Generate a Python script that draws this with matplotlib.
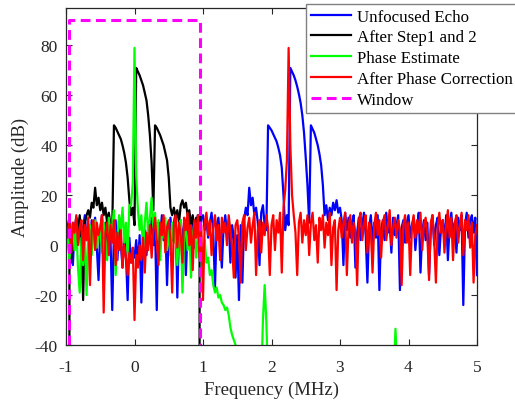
import numpy as np
import matplotlib
matplotlib.use("Agg")
import matplotlib.pyplot as plt
from matplotlib.lines import Line2D

plt.rcParams['font.family'] = ['Liberation Serif', 'DejaVu Serif']

# ---------------- data ----------------
freq_start, freq_stop = -1.0, 5.0   # MHz, uniform sampling of blue/red spectra

unfocused_echo = [
    10, 4, 12, 1, -8, 6, 11, 3, 9, -4, 7, 12, 2, 8, -2, 10, 5, 11, -1, -14,
    6, 12, 3, 9, -3, 8, 2, -26, 5, 10, -6, 7, 1, -9, 4, -4, -22, 3, -7, -2,
    -5, 2, -8, 4, -23, 1, 6, -4, 8, 3, 11, 0, 7, -26, 9, 4, 12, 2, 8, -16,
    5, 11, 2, 9, 13, -21, 6, 10, 1, 8, -12, 7, 12, 3, 10, -1, 8, 12, 4, 11,
    12, 6, 10, 3, 9, 13, 5, -17, 8, 11, 2, -9, 7, 12, 4, 10, -7, 8, 3, -13,
    4, -22, 8, -15, 10, 15, 12, 23, 16, 19, 12, 15, 9, -8, 13, 16, 8, 6, 48, 47,
    46, 44.5, 43, 41.5, 39, 36, 31, 20, 6, 12, 8, 71, 69.5, 68, 66, 63.5, 60.5, 57, 52, 45,
    35, 24, 9, 48, 46.5, 45, 42.5, 40, 36.5, 32, 24, 12, 16, 10, 15, 12, 17, 14, 18, 13,
    15, 10, -8, 13, 6, 11, 3, 9, 12, -9, 5, 11, 2, 8, 13, 4, -15, 7, 12, 1,
    9, 3, 12, -18, 6, 10, 2, 13, 5, 9, -3, 11, 4, 8, 12, -18, 7, 10, 1, 9,
    12, 3, 8, 11, -2, 7, 13, -11, 5, 10, 2, 9, -12, 6, 12, 0, 8, 11, -4, 7,
    10, 2, 12, -6, 8, 13, 4, 9, -3, 11, 6, 12, -24, 8, 13, 3, 10, 12, 5, 11, -12,
]

after_phase_correction = [
    8, 3, 11, -3, 9, 5, 12, 0, 7, 10, -6, 8, 2, 11, -16, 6, 10, -2, 9, 4,
    7, 12, -27, 5, 9, -4, 8, 1, 10, -8, 5, -2, 6, -9, 0, -5, -12, -3, -7, -1,
    -30, -4, -9, 0, -6, 3, -11, 5, -2, 8, -5, 6, 11, 1, -8, 9, 4, 12, -3, 7,
    10, 2, -19, 8, 12, -1, 9, 4, -7, 11, 6, 13, 0, 8, -10, 10, 3, 12, -5, 8,
    -22, 9, 13, 4, 10, -4, 7, 12, 2, 8, -6, 11, 5, 9, 0, 12, 6, -1, -13, 8,
    10, 3, -15, 9, 12, -2, 7, 11, 1, 8, 13, -12, 6, 10, -3, 9, 4, 12, 7, -12,
    8, 12, -2, 10, 5, 13, -11, 15, 22, 34, 79, 40, 20, 12, 5, -12, 9, 13, 1, 10,
    4, 12, -4, 9, 13, 2, 8, -7, 11, 6, 12, -1, 9, 4, 13, -8, 7, 10, -18, 6,
    11, 3, 9, 13, -12, 7, 12, 1, 9, 5, -16, 10, 13, 2, 8, 12, -3, 9, 6, -11,
    8, 13, 4, 10, -5, 9, 12, 2, 8, 14, 0, 7, 11, 3, 10, 6, -16, 8, 12, 1,
    9, -12, 7, 12, 3, 10, 5, 13, -2, 8, 11, 4, -14, 9, 12, 2, -15, 7, 13, 5,
    10, -3, 8, 14, 3, 11, -6, 9, 12, 1, 8, 13, -4, 10, 6, 12, -1, 9, -15, 4, 8,
]

# After Step1 and 2 (only inside the window, -0.95 .. 0.95 MHz)
step12_start, step12_stop = -0.95, 0.95
after_step12 = [
    5, -7, 8, 2, 11, 6, 12, 3, -22, 9, 12, 14, 11, 17, 15, 23, 16, 19, 14, 17,
    12, 15, 9, 13, 8, 6, 48, 47, 45.5, 44, 42.5, 40, 37, 33, 27, 18, 12, 15, 8,
    71, 69.5, 68, 66, 64, 61, 58, 52, 44, 33, 14, 48, 47, 45.5, 44, 42, 40, 37, 34,
    27, 15, 12, 15, 11, 14, 9, 16, 18, 15, 17, 12, 14, 8, 12, 6, 11, 9, 12,
]
step12_edge = -100  # value the windowed spectrum falls to outside the window

# Phase estimate: -1 .. 1.5 MHz uniformly, then a few isolated points
phase_start, phase_stop = -1.0, 1.5
phase_estimate = [
    -3, 6, -6, 4, 9, -2, 7, -9, -19, 3, -8, 5, -20, 2, 8, -4, 6, 10, -1, 4,
    7, -3, 9, 2, -6, 11, 4, 8, 14, -12, 3, 12, 6, 15, 1, 9, -4, 16, 16, 25,
    79, 28, 14, 6, 12, -3, 9, 17, 4, 11, 19, 7, 13, 2, 10, -6, 8, 3, 11, -2,
    6, -4, 9, 1, 7, -8, 5, 10, -19, 3, 8, -2, 6, -13, 4, 9, -5, 2, 7, -3,
    -4, 2, -7, -5, -12, -10, -16, -19, -17, -21, -20, -23, -24, -26, -25, -28, -33, -36, -38, -40, -42,
]
phase_tail_freq = [1.525, 1.85, 1.875, 1.9, 1.925, 1.95, 3.78, 3.81, 3.84, 5.0]
phase_tail = [-55, -55, -30, -16, -31, -55, -55, -33.5, -55, -55]

window_edges = [-0.96, 0.955]
window_level = 90

xticks = [-1, 0, 1, 2, 3, 4, 5]
yticks = [-40, -20, 0, 20, 40, 60, 80]
legend_labels = ["Unfocused Echo", "After Step1 and 2", "Phase Estimate",
                 "After Phase Correction", "Window"]

# ---------------- figure ----------------
fig = plt.figure(figsize=(5.15, 4.06), dpi=100)
ax = fig.add_axes([66 / 515, 1 - 346 / 406, (477 - 66) / 515, (346 - 9) / 406])

f_main = np.linspace(freq_start, freq_stop, len(unfocused_echo))
f_step = np.linspace(step12_start, step12_stop, len(after_step12))
f_phase = np.concatenate([np.linspace(phase_start, phase_stop, len(phase_estimate)),
                          phase_tail_freq])
v_phase = np.concatenate([phase_estimate, phase_tail])
f_step_full = np.concatenate([[step12_start], f_step, [step12_stop]])
v_step_full = np.concatenate([[step12_edge], after_step12, [step12_edge]])

lw = 1.6
ax.plot(f_main, unfocused_echo, color='#0000ff', lw=lw)
ax.plot(f_step_full, v_step_full, color='#000000', lw=lw)
ax.plot(f_phase, v_phase, color='#00ff00', lw=lw)
ax.plot(f_main, after_phase_correction, color='#ff0000', lw=lw)
ax.plot([window_edges[0], window_edges[0], window_edges[1], window_edges[1]],
        [-100, window_level, window_level, -100],
        color='#ff00ff', lw=2.2, dashes=(3.2, 1.8))

ax.set_xlim(-1, 5)
ax.set_ylim(-40, 95)
ax.set_xticks(xticks)
ax.set_yticks(yticks)
ax.set_xticklabels([str(t) for t in xticks])
ax.set_yticklabels([str(t) for t in yticks])

axcol = '#262626'
for s in ax.spines.values():
    s.set_color(axcol)
    s.set_linewidth(0.9)
ax.tick_params(direction='in', top=True, right=True, length=4, width=0.8,
               colors=axcol, labelsize=12.5, pad=6)
ax.tick_params(axis='x', pad=10)
ax.set_xlabel("Frequency (MHz)", fontsize=13.5, color=axcol, labelpad=4)
ax.set_ylabel("Amplitude (dB)", fontsize=13.5, color=axcol, labelpad=4)

handles = [Line2D([], [], color='#0000ff', lw=lw),
           Line2D([], [], color='#000000', lw=lw),
           Line2D([], [], color='#00ff00', lw=lw),
           Line2D([], [], color='#ff0000', lw=lw),
           Line2D([], [], color='#ff00ff', lw=2.2, dashes=(3.2, 1.8))]
leg = fig.legend(handles, legend_labels, loc='upper left',
                 bbox_to_anchor=(305.5 / 515, 1 - 4.5 / 406),
                 fontsize=12.2, frameon=True, fancybox=False, framealpha=1,
                 edgecolor='#808080', handlelength=2.4, handletextpad=0.35,
                 labelspacing=0.28, borderpad=0.3, borderaxespad=0)
leg.get_frame().set_linewidth(1.0)

fig.savefig("out.png", dpi=100)
